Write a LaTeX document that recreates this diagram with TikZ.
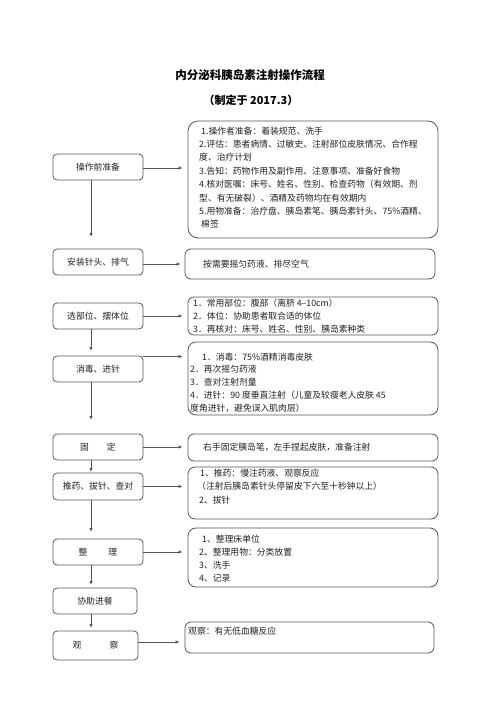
\documentclass[tikz,border=0pt]{standalone}
\usepackage{fontspec}
\setmainfont{Noto Sans CJK SC}
\usetikzlibrary{arrows.meta}
\definecolor{linegray}{HTML}{555555}
\definecolor{txtgray}{HTML}{222222}
\begin{document}
\begin{tikzpicture}[x=1pt,y=-1pt,
  lbox/.style={draw=linegray,line width=0.8pt,rounded corners=4pt,inner sep=0pt,
    minimum width=90pt,minimum height=26pt,text=txtgray,font=\fontsize{8.8}{10}\selectfont},
  rbox/.style={draw=linegray,line width=0.8pt,rounded corners=6pt,inner sep=0pt,
    minimum width=250pt},
  rtext/.style={anchor=north west,inner sep=0pt,align=left,text=txtgray,
    font=\fontsize{8.8}{13.4}\selectfont},
  arr/.style={draw=linegray,line width=0.8pt,-{Latex[length=4pt,width=3.4pt]}}]
\useasboundingbox[fill=white] (0,0) rectangle (500,708);

% title
\node[font=\fontsize{11.5}{14}\selectfont\bfseries] (title) at (250,75) {内分泌科胰岛素注射操作流程};
\node[font=\fontsize{11}{14}\selectfont\bfseries] (sub) at (251,100) {（制定于 2017.3）};

% left boxes
\node[lbox] (L1) at (98,167) {操作前准备};
\node[lbox] (L2) at (98,262) {安装针头、排气};
\node[lbox] (L3) at (98,316) {选部位、摆体位};
\node[lbox] (L4) at (98,369) {消毒、进针};
\node[lbox] (L5) at (98,447) {固\hspace{18pt}定};
\node[lbox,minimum height=27pt] (L6) at (98,486.5) {推药、拔针、查对};
\node[lbox] (L7) at (98,552) {整\hspace{21pt}理};
\node[lbox,minimum width=84pt] (L8) at (95,601) {协助进餐};
\node[lbox,minimum width=85pt,minimum height=29pt] (L9) at (95.5,645.5) {观\hspace{28pt}察};

% right boxes
\node[rbox,rounded corners=10pt,minimum height=117pt] (R1) at (313,179.5) {};
\node[rbox,minimum height=30pt] (R2) at (310,264) {};
\node[rbox,minimum height=38pt] (R3) at (313,316) {};
\node[rbox,rounded corners=8pt,minimum height=73pt] (R4) at (313,378.5) {};
\node[rbox,minimum height=27pt] (R5) at (313,447.5) {};
\node[rbox,rounded corners=7pt,minimum height=52pt] (R6) at (313,493) {};
\node[rbox,rounded corners=8pt,minimum height=59pt] (R7) at (313,557.5) {};
\node[rbox,minimum width=249pt,minimum height=31pt] (R9) at (309.5,637.5) {};

% right texts
\node[rtext] (T1) at (199,126.5) {\hspace{2pt}1.操作者准备：着装规范、洗手\\
2.评估：患者病情、过敏史、注射部位皮肤情况、合作程\\
度、治疗计划\\
3.告知：药物作用及副作用、注意事项、准备好食物\\
4.核对医嘱：床号、姓名、性别、检查药物（有效期、剂\\
型、有无破裂）、酒精及药物均在有效期内\\
5.用物准备：治疗盘、胰岛素笔、胰岛素针头、75\%酒精、\\
\hspace{2pt}棉签};
\node[rtext] (T2) at (203,259.5) {按需要摇匀药液、排尽空气};
\node[rtext,font=\fontsize{8.8}{13}\selectfont] (T3) at (193,298.5) {1．常用部位：腹部（离脐 4–10cm）\\
2．体位：协助患者取合适的体位\\
3．再核对：床号、姓名、性别、胰岛素种类};
\node[rtext,font=\fontsize{8.8}{12.8}\selectfont] (T4) at (190,352.5) {\hspace{12pt}1．消毒：75\%酒精消毒皮肤\\
2．再次摇匀药液\\
3．查对注射剂量\\
4．进针：90 度垂直注射（儿童及较瘦老人皮肤 45\\
度角进针，避免误入肌肉层）};
\node[rtext] (T5) at (203,442.5) {右手固定胰岛笔，左手捏起皮肤，准备注射};
\node[rtext,font=\fontsize{8.8}{13.5}\selectfont] (T6) at (197,468.5) {\hspace{3pt}1、推药：慢注药液、观察反应\\
（注射后胰岛素针头停留皮下六至十秒钟以上）\\
\hspace{2pt}2、拔针};
\node[rtext,font=\fontsize{8.8}{13}\selectfont] (T7) at (199,534.5) {\hspace{3pt}1、整理床单位\\
2、整理用物：分类放置\\
3、洗手\\
4、记录};
\node[rtext] (T9) at (188,626.5) {观察：有无低血糖反应};

% horizontal arrows
\coordinate (h1) at ([yshift=-1pt]L1.east);
\coordinate (h2) at ([yshift=-2pt]L2.east);
\coordinate (h4) at ([yshift=-1pt]L4.north east);
\coordinate (h9) at ([yshift=3.5pt]L9.east);
\draw[arr,shorten >=5pt] (h1) -- (R1.west |- h1);
\draw[arr,shorten >=4pt] (h2) -- (R2.west |- h2);
\draw[arr,shorten >=5pt] (L3.east) -- (R3.west |- L3.east);
\draw[arr,shorten >=5pt] (h4) -- (R4.west |- h4);
\draw[arr,shorten >=5pt] (L5.east) -- (R5.west |- L5.east);
\draw[arr,shorten >=5pt] (L6.east) -- (R6.west |- L6.east);
\draw[arr,shorten >=5pt] (L7.east) -- (R7.west |- L7.east);
\draw[arr,shorten >=5pt] (h9) -- (R9.west |- h9);

% vertical arrows
\coordinate (d1) at (91,237);
\coordinate (d3) at (91,351);
\coordinate (d4) at (91,420);
\coordinate (d5) at (91,472);
\coordinate (d6) at (91,532);
\coordinate (d7) at (91,585);
\coordinate (d8) at (91,628);
\draw[arr] (L1.south -| d1) -- (d1);
\draw[arr] (L3.south -| d3) -- (d3);
\draw[arr] (L4.south -| d4) -- (d4);
\draw[arr] (L5.south -| d5) -- (d5);
\draw[arr] (L6.south -| d6) -- (d6);
\draw[arr] (L7.south -| d7) -- (d7);
\draw[arr] (L8.south -| d8) -- (d8);
\end{tikzpicture}
\end{document}
